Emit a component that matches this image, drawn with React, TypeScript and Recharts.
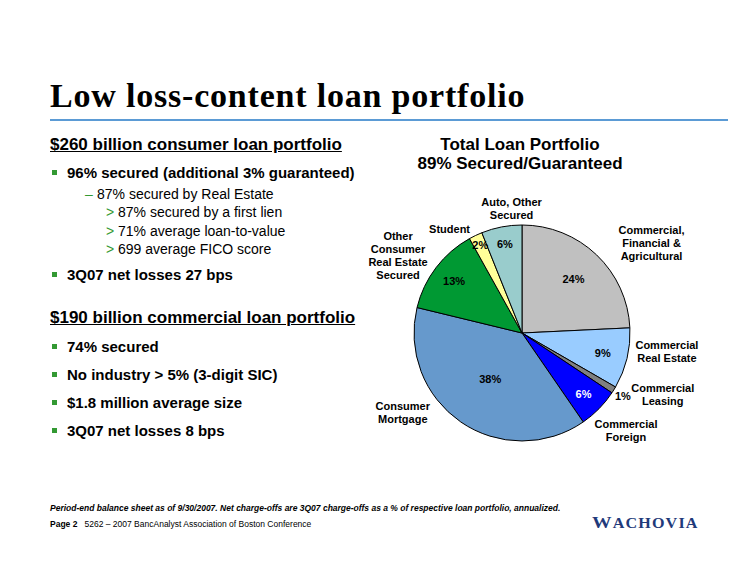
import React from 'react';
import { PieChart, Pie, Cell } from 'recharts';

// loan portfolio mix, clockwise from 12 o'clock
const categories = [
  'Commercial,\nFinancial &\nAgricultural',
  'Commercial\nReal Estate',
  'Commercial\nLeasing',
  'Commercial\nForeign',
  'Consumer\nMortgage',
  'Other\nConsumer\nReal Estate\nSecured',
  'Student',
  'Auto, Other\nSecured',
];
const shares = [24, 9, 1, 6, 38, 13, 2, 6];

const sliceColors = ['#C0C0C0', '#99CCFF', '#808080', '#0000FF', '#6699CC', '#009933', '#FFFF99', '#99CCCC'];
const pctColors = ['#000', '#000', '#000', '#fff', '#000', '#000', '#000', '#000'];
// label placement: inner pct radius (fraction of R), name nudge from the rim point
const pctRadius = [0.69, 0.77, 1.1, 0.8, 0.52, 0.79, 0.9, 0.84];
const nameNudge: [number, number][] = [
  [55, -12], [40, -7], [49, 5], [27, 22], [-58, -9], [-38, -12], [-26, -6], [10, -18],
];

const data = categories.map((c, i) => ({ name: c, value: shares[i] }));

const RADIAN = Math.PI / 180;
const GREEN = '#339933';
const SANS = 'Arial, "Liberation Sans", sans-serif';

function renderLabel(props: any) {
  const { cx, cy, midAngle, outerRadius, index, value } = props;
  const cos = Math.cos(-midAngle * RADIAN);
  const sin = Math.sin(-midAngle * RADIAN);
  const pr = outerRadius * pctRadius[index];
  const px = cx + pr * cos;
  const py = cy + pr * sin;
  const ex = cx + outerRadius * cos + nameNudge[index][0];
  const ey = cy + outerRadius * sin + nameNudge[index][1];
  const lines = categories[index].split('\n');
  const lh = 13;
  const top = ey - ((lines.length - 1) * lh) / 2;
  return (
    <g key={`lbl-${index}`}>
      <text x={px} y={py} textAnchor="middle" dominantBaseline="central"
        fontFamily={SANS} fontSize={11} fontWeight="bold" fill={pctColors[index]}>
        {value}%
      </text>
      <text textAnchor="middle" fontFamily={SANS} fontSize={11} fontWeight="bold" fill="#000">
        {lines.map((l, k) => (
          <tspan key={k} x={ex} y={top + k * lh} dominantBaseline="central">{l}</tspan>
        ))}
      </text>
    </g>
  );
}

const Line = ({ y, x, children, style }: any) => (
  <div style={{ position: 'absolute', left: x, top: y - 10, height: 20, lineHeight: '20px', whiteSpace: 'nowrap', ...style }}>
    {children}
  </div>
);

const Bullet = ({ y }: { y: number }) => (
  <div style={{ position: 'absolute', left: 52, top: y - 3, width: 5, height: 5, background: GREEN }} />
);

export default function App() {
  const head = { fontFamily: SANS, fontSize: 17, fontWeight: 'bold' as const, textDecoration: 'underline' };
  const bold15 = { fontFamily: SANS, fontSize: 15, fontWeight: 'bold' as const };
  const reg14 = { fontFamily: SANS, fontSize: 14, color: '#000' };
  return (
    <div style={{ position: 'absolute', left: 0, top: 0, width: 750, height: 568, background: '#fff', overflow: 'hidden' }}>
      <div style={{ position: 'absolute', left: 50, top: 75.5, fontFamily: '"Liberation Serif", serif', fontWeight: 'bold', fontSize: 34, lineHeight: '40px', letterSpacing: 0.8, whiteSpace: 'nowrap' }}>
        Low loss-content loan portfolio
      </div>
      <div style={{ position: 'absolute', left: 50, top: 119, width: 678, height: 2, background: '#5B9BD5' }} />

      <Line x={50} y={145} style={head}>$260 billion consumer loan portfolio</Line>
      <Bullet y={173} />
      <Line x={67} y={173} style={bold15}>96% secured (additional 3% guaranteed)</Line>
      <Line x={85} y={194} style={{ ...reg14, color: GREEN }}>–</Line>
      <Line x={97} y={194} style={reg14}>87% secured by Real Estate</Line>
      {[['87% secured by a first lien', 212], ['71% average loan-to-value', 231], ['699 average FICO score', 249]].map(([t, y]) => (
        <React.Fragment key={t as string}>
          <Line x={106} y={y} style={{ ...reg14, color: GREEN }}>&gt;</Line>
          <Line x={118} y={y} style={reg14}>{t}</Line>
        </React.Fragment>
      ))}
      <Bullet y={275} />
      <Line x={67} y={275} style={bold15}>3Q07 net losses 27 bps</Line>

      <Line x={50} y={318} style={head}>$190 billion commercial loan portfolio</Line>
      {[['74% secured', 347], ['No industry > 5% (3-digit SIC)', 375], ['$1.8 million average size', 403], ['3Q07 net losses 8 bps', 431]].map(([t, y]) => (
        <React.Fragment key={t as string}>
          <Bullet y={y as number} />
          <Line x={67} y={y} style={bold15}>{t}</Line>
        </React.Fragment>
      ))}

      <div style={{ position: 'absolute', left: 370, width: 300, top: 135, textAlign: 'center', fontFamily: SANS, fontSize: 17, fontWeight: 'bold', lineHeight: '19px' }}>
        Total Loan Portfolio<br />89% Secured/Guaranteed
      </div>

      <div style={{ position: 'absolute', left: 0, top: 0 }}>
        <PieChart width={750} height={568} margin={{ top: 0, right: 0, bottom: 0, left: 0 }}>
          <Pie data={data} dataKey="value" nameKey="name" cx={522} cy={333} outerRadius={108}
            startAngle={90} endAngle={-270} stroke="#000" strokeWidth={1}
            label={renderLabel} labelLine={false} isAnimationActive={false}>
            {data.map((d, i) => <Cell key={d.name} fill={sliceColors[i]} />)}
          </Pie>
        </PieChart>
      </div>

      <Line x={50} y={508} style={{ fontFamily: SANS, fontSize: 8.5, fontWeight: 'bold', fontStyle: 'italic' }}>
        Period-end balance sheet as of 9/30/2007. Net charge-offs are 3Q07 charge-offs as a % of respective loan portfolio, annualized.
      </Line>
      <Line x={50} y={524} style={{ fontFamily: SANS, fontSize: 8.5 }}>
        <b>Page 2</b>&nbsp;&nbsp;&nbsp;5262 – 2007 BancAnalyst Association of Boston Conference
      </Line>
      <Line x={592} y={523} style={{ fontFamily: '"Liberation Serif", serif', fontWeight: 'bold', color: '#1F3A7A', letterSpacing: 1, transform: 'scaleX(1.15)', transformOrigin: 'left center' }}>
        <span style={{ fontSize: 17 }}>W</span><span style={{ fontSize: 14 }}>ACHOVIA</span>
      </Line>
    </div>
  );
}
